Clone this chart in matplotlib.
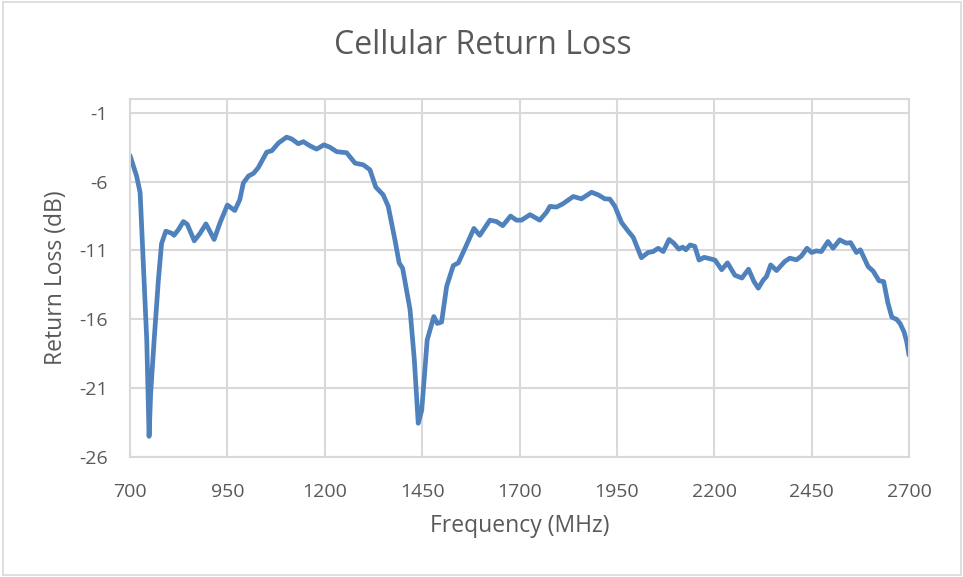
import matplotlib as mpl
mpl.use('Agg')
import numpy as np
import matplotlib.pyplot as plt
from matplotlib.patches import Rectangle

# return loss trace (MHz, dB)
freq_mhz = [700, 717, 726, 734, 743, 749, 753, 762, 773, 781, 792, 807, 813, 824, 837,
            847, 865, 880, 895, 916, 931, 950, 969, 982, 991, 1004, 1017, 1029, 1051, 1064,
            1081, 1102, 1115, 1132, 1145, 1162, 1179, 1198, 1213, 1231, 1256, 1278, 1299,
            1316, 1331, 1350, 1363, 1380, 1391, 1400, 1419, 1430, 1440, 1449, 1463, 1480,
            1489, 1500, 1513, 1530, 1543, 1560, 1583, 1598, 1624, 1641, 1657, 1677, 1692,
            1705, 1727, 1752, 1770, 1778, 1795, 1812, 1838, 1859, 1885, 1902, 1919, 1932,
            1945, 1962, 1979, 1992, 2013, 2030, 2043, 2056, 2069, 2084, 2096, 2109, 2119,
            2127, 2138, 2150, 2161, 2174, 2189, 2202, 2219, 2234, 2253, 2271, 2288, 2302,
            2313, 2326, 2334, 2345, 2360, 2381, 2394, 2411, 2424, 2438, 2450, 2462, 2475,
            2492, 2505, 2522, 2539, 2550, 2565, 2575, 2595, 2608, 2623, 2635, 2646, 2656,
            2668, 2677, 2687, 2694, 2700]
return_loss_db = [-4.1, -5.6, -6.8, -11.9, -17.5, -24.5, -21.4, -17.5, -13.1, -10.5, -9.6,
                  -9.75, -9.9, -9.5, -8.9, -9.1, -10.3, -9.75, -9.07, -10.2, -9.0, -7.7, -8.1,
                  -7.3, -6.1, -5.6, -5.4, -5.0, -3.86, -3.76, -3.2, -2.77, -2.9, -3.25, -3.1,
                  -3.4, -3.64, -3.33, -3.5, -3.83, -3.9, -4.66, -4.78, -5.14, -6.4, -6.96,
                  -7.8, -10.2, -11.9, -12.3, -15.3, -18.95, -23.55, -22.6, -17.5, -15.8,
                  -16.3, -16.2, -13.6, -12.1, -11.9, -10.85, -9.4, -9.9, -8.8, -8.9, -9.2,
                  -8.5, -8.8, -8.8, -8.4, -8.8, -8.2, -7.8, -7.85, -7.6, -7.08, -7.25, -6.77,
                  -6.96, -7.25, -7.27, -7.8, -8.97, -9.6, -10.05, -11.53, -11.15, -11.08,
                  -10.84, -11.08, -10.2, -10.47, -10.9, -10.76, -10.95, -10.6, -10.7, -11.7,
                  -11.5, -11.6, -11.7, -12.4, -11.9, -12.8, -13.0, -12.36, -13.26, -13.74,
                  -13.14, -12.9, -12.05, -12.46, -11.8, -11.56, -11.68, -11.4, -10.84, -11.15,
                  -11.03, -11.08, -10.35, -10.84, -10.23, -10.47, -10.43, -11.15, -10.95,
                  -12.17, -12.5, -13.2, -13.26, -14.83, -15.85, -16.0, -16.3, -16.9, -17.6,
                  -18.6]

x_ticks = [700, 950, 1200, 1450, 1700, 1950, 2200, 2450, 2700]
y_ticks = [-26, -21, -16, -11, -6, -1]

txt = '#595959'
grid = '#d9d9d9'
plt.rcParams['font.family'] = ['Open Sans', 'DejaVu Sans']
plt.rcParams['axes.unicode_minus'] = False

fig = plt.figure(figsize=(9.63, 5.77), dpi=100)
fig.patches.append(Rectangle((3/963, 2/577), 958/963, 573/577, transform=fig.transFigure,
                             fill=False, edgecolor=grid, linewidth=1.2))

ax = fig.add_axes([130/963, 120/577, 779/963, 358/577])
ax.plot(freq_mhz, return_loss_db, color='#4f81bd', linewidth=3.4,
        solid_joinstyle='round', solid_capstyle='round')

ax.set_xlim(700, 2700)
ax.set_ylim(-26, 0)
ax.set_xticks(x_ticks)
ax.set_yticks(y_ticks)
ax.grid(True, color=grid, linewidth=1.5)
ax.set_axisbelow(True)
for s in ax.spines.values():
    s.set_color(grid)
    s.set_linewidth(1.5)
ax.tick_params(length=0, labelsize=14, labelcolor=txt)
ax.tick_params(axis='x', pad=19)
ax.tick_params(axis='y', pad=16)

fig.text(483/963, 1 - 46/577, 'Cellular Return Loss', fontsize=23, color=txt,
         ha='center', va='center')
ax.set_xlabel('Frequency (MHz)', fontsize=16.5, color=txt, labelpad=9)
ax.set_ylabel('Return Loss (dB)', fontsize=16.5, color=txt, labelpad=8)

plt.savefig('out.png', dpi=100)
plt.close()
